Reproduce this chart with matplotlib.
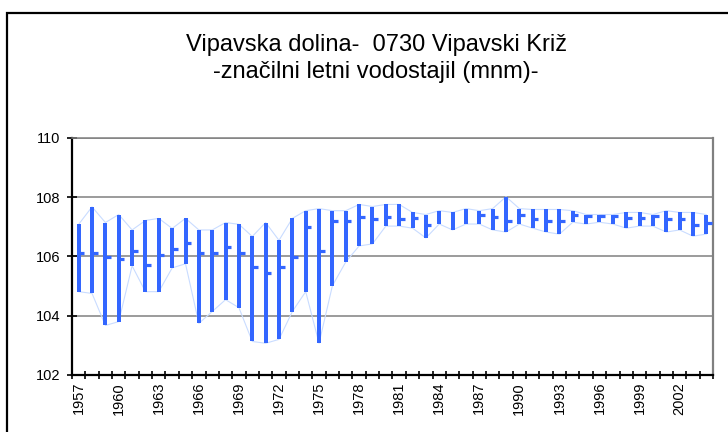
import numpy as np
import matplotlib.pyplot as plt
from matplotlib.patches import Rectangle

plt.rcParams['font.family'] = ['Liberation Sans', 'DejaVu Sans']

# letni vodostaji (mnm), 1957-2004
leta = list(range(1957, 2005))
vmax = [107.08, 107.67, 107.14, 107.41, 106.89, 107.21, 107.28, 106.94, 107.28, 106.89,
        106.89, 107.14, 107.08, 106.67, 107.14, 106.54, 107.28, 107.54, 107.61, 107.54,
        107.54, 107.75, 107.68, 107.75, 107.75, 107.48, 107.41, 107.54, 107.48, 107.61,
        107.54, 107.61, 108.01, 107.61, 107.58, 107.58, 107.58, 107.54, 107.41, 107.41,
        107.41, 107.48, 107.48, 107.41, 107.54, 107.48, 107.48, 107.41]
vmin = [104.81, 104.75, 103.67, 103.80, 105.68, 104.81, 104.81, 105.61, 105.75, 103.74,
        104.14, 104.54, 104.27, 103.13, 103.07, 103.20, 104.14, 104.81, 103.07, 105.01,
        105.81, 106.35, 106.42, 107.02, 107.02, 106.95, 106.62, 107.09, 106.89, 107.09,
        107.09, 106.89, 106.82, 107.09, 106.95, 106.82, 106.75, 107.15, 107.09, 107.15,
        107.09, 106.95, 107.02, 107.02, 106.82, 106.89, 106.68, 106.75]
vsr = [106.12, 106.12, 105.98, 105.91, 106.18, 105.71, 106.05, 106.25, 106.45, 106.12,
       106.12, 106.32, 106.12, 105.65, 105.45, 105.65, 105.98, 106.99, 106.18, 107.19,
       107.19, 107.32, 107.25, 107.32, 107.25, 107.28, 107.05, np.nan, np.nan, np.nan,
       107.39, 107.32, 107.19, 107.39, 107.25, 107.19, 107.19, 107.39, 107.35, 107.35,
       107.35, 107.28, 107.28, 107.35, 107.25, 107.25, 107.05, 107.12]

x = np.arange(len(leta))
vmax = np.array(vmax)
vmin = np.array(vmin)
vsr = np.array(vsr)

fig = plt.figure(figsize=(7.28, 4.32), dpi=100)
ax = fig.add_axes([72/728, 1-375/432, (713-72)/728, (375-137.7)/432])

# okvir grafa
fig.patches.append(Rectangle((7/728, -0.1), 1.2, 1-12.5/432+0.1, transform=fig.transFigure,
                             fill=False, edgecolor='black', linewidth=1.6))

barva = '#3366FF'
ax.plot(x, vmax, color='#C9DCFF', lw=0.8, zorder=2)
ax.plot(x, vmin, color='#C9DCFF', lw=0.8, zorder=2)
ax.bar(x, vmax - vmin, bottom=vmin, width=0.3, color=barva, zorder=3)
m = ~np.isnan(vsr)
ax.hlines(vsr[m], x[m], x[m] + 0.42, color=barva, lw=2.3, zorder=3)

ax.set_ylim(102, 110)
ax.set_yticks([102, 104, 106, 108, 110])
ax.set_xlim(-0.5, len(leta) - 0.5)
ax.set_xticks(x[::3])
ax.set_xticklabels([str(l) for l in leta[::3]], rotation=90, fontsize=10.5)
ax.set_xticks(np.arange(-0.5, len(leta)), minor=True)
ax.tick_params(axis='x', which='major', length=0, pad=5)
ax.tick_params(axis='x', which='minor', direction='inout', length=6, width=1.2)
ax.tick_params(axis='y', direction='inout', length=7, width=1.2, labelsize=10.5, pad=5)

ax.grid(axis='y', color='#808080', lw=1.1, zorder=1)
ax.set_axisbelow(True)
ax.spines['left'].set_color('black')
ax.spines['left'].set_linewidth(1.6)
ax.spines['bottom'].set_color('black')
ax.spines['bottom'].set_linewidth(1.6)
ax.spines['top'].set_color('#808080')
ax.spines['right'].set_color('#808080')
ax.spines['top'].set_linewidth(1.1)
ax.spines['right'].set_linewidth(1.6)

fig.text(376/728, 1-45/432, 'Vipavska dolina-  0730 Vipavski Križ', ha='center', va='center', fontsize=17)
fig.text(376/728, 1-72/432, '-značilni letni vodostajil (mnm)-', ha='center', va='center', fontsize=17)

plt.savefig('out.png', dpi=100)
